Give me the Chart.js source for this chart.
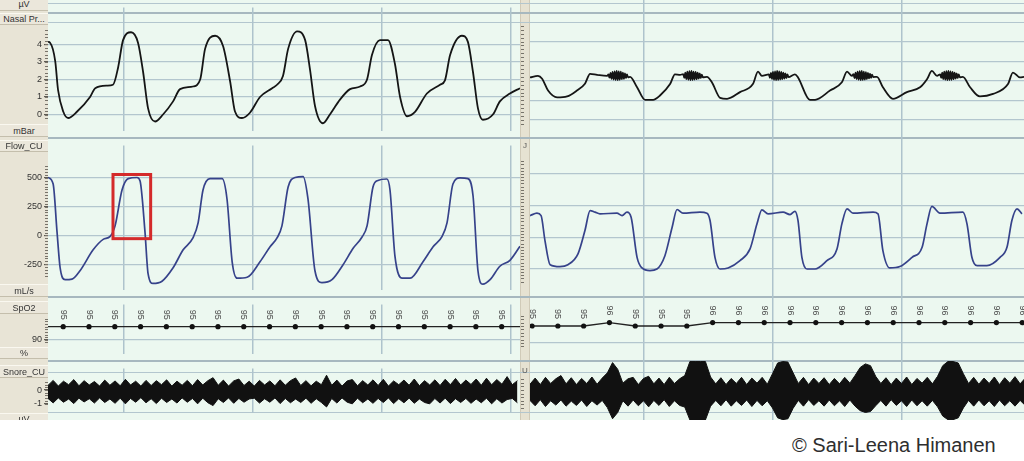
<!DOCTYPE html>
<html>
<head>
<meta charset="utf-8">
<script src="https://cdn.jsdelivr.net/npm/chart.js@4.4.1/dist/chart.umd.min.js"></script>
<style>
body { margin:0; width:1024px; height:461px; background:#fff; position:relative; overflow:hidden; font-family:"Liberation Sans", Arial, sans-serif; }
.abs { position:absolute; }
canvas { position:absolute; }
.sep { position:absolute; left:48px; width:976px; height:1px; background:#b3c6ce; }
.sep.thick { height:2px; background:#a7b8bf; }
.chan { position:absolute; left:0; width:48px; font-size:9px; color:#333; text-align:center; background:#ebe7db; border-top:1px solid #faf8f0; border-bottom:1px solid #c4beac; box-sizing:border-box; white-space:nowrap; overflow:hidden; }
.glyph { position:absolute; left:521px; width:8px; font-size:8px; color:#555; text-align:center; }
#copy { left:792px; top:435px; font-size:20px; line-height:20px; color:#2e2e2e; white-space:nowrap; }
</style>
</head>
<body>
<div id="scope" class="abs" style="left:0;top:0;width:1024px;height:420px;overflow:hidden">
  <div class="abs" style="left:0;top:0;width:48px;height:420px;background:#e8e4d6"></div>
  <div class="abs" style="left:48px;top:0;width:472px;height:420px;background:#ecf8f0"></div>
  <div class="abs" style="left:520px;top:0;width:10px;height:420px;background:#e6e2d2;border-left:1px solid #d0cab8;border-right:1px solid #d0cab8;box-sizing:border-box"></div>
  <div class="abs" style="left:530px;top:0;width:494px;height:420px;background:#ecf8f0"></div>

  <div class="sep" style="top:3px"></div>
  <div class="sep thick" style="top:12px"></div>
  <div class="sep" style="top:22px"></div>
  <div class="sep thick" style="top:137px"></div>
  <div class="sep thick" style="top:296px"></div>
  <div class="sep thick" style="top:360px"></div>
  <div class="sep" style="top:372px"></div>
  <div class="sep" style="top:412px"></div>

  <canvas id="nasalL" width="520" height="138" style="left:0;top:0"></canvas>
  <canvas id="nasalR" width="504" height="138" style="left:520px;top:0"></canvas>
  <canvas id="flowL" width="520" height="159" style="left:0;top:138px"></canvas>
  <canvas id="flowR" width="504" height="159" style="left:520px;top:138px"></canvas>
  <canvas id="spo2L" width="520" height="64" style="left:0;top:297px"></canvas>
  <canvas id="spo2R" width="504" height="64" style="left:520px;top:297px"></canvas>
  <canvas id="snoreL" width="520" height="59" style="left:0;top:361px"></canvas>
  <canvas id="snoreR" width="504" height="59" style="left:520px;top:361px"></canvas>

  <div class="chan" style="top:-3px;height:14px;line-height:13px">µV</div>
  <div class="chan" style="top:13px;height:12px;line-height:11px">Nasal Pr...</div>
  <div class="chan" style="top:124px;height:13px;line-height:12px">mBar</div>
  <div class="chan" style="top:140px;height:12px;line-height:11px">Flow_CU</div>
  <div class="chan" style="top:284px;height:13px;line-height:12px">mL/s</div>
  <div class="chan" style="top:301px;height:13px;line-height:12px">SpO2</div>
  <div class="chan" style="top:347px;height:12px;line-height:11px">%</div>
  <div class="chan" style="top:365px;height:13px;line-height:12px">Snore_CU</div>
  <div class="chan" style="top:413px;height:12px;line-height:11px">µV</div>
  <div class="glyph" style="top:141px">J</div>
  <div class="glyph" style="top:366px">U</div>
</div>
<div id="copy" class="abs">© Sari-Leena Himanen</div>

<script>
// seconds, [time, value] pairs
const nasalLeft = [[-2.95,4.15],[-2.87,4.1],[-2.67,3.05],[-2.56,1.4],[-2.36,0.17],[-2.17,-0.2],[-1.82,0.17],[-1.32,1.0],[-1.12,1.5],[-0.66,1.65],[-0.43,1.7],[-0.23,2.7],[-0.04,4.25],[0.27,4.7],[0.54,4.1],[0.74,2.4],[0.93,0.35],[1.2,-0.4],[1.51,0.0],[1.9,0.75],[2.17,1.45],[2.67,1.6],[2.95,2.0],[3.14,3.75],[3.53,4.5],[3.84,3.9],[4.11,1.9],[4.3,0.17],[4.57,-0.2],[4.88,0.1],[5.27,1.0],[5.74,1.5],[5.93,1.7],[6.16,2.2],[6.36,3.75],[6.71,4.75],[7.02,4.25],[7.21,2.55],[7.4,0.5],[7.71,-0.5],[7.98,0.0],[8.37,0.85],[8.76,1.45],[9.15,1.6],[9.42,2.0],[9.61,3.4],[9.92,4.25],[10.23,4.25],[10.5,2.9],[10.7,1.0],[10.97,-0.1],[11.28,0.15],[11.74,1.2],[12.25,1.7],[12.44,1.95],[12.64,3.4],[13.1,4.5],[13.33,4.15],[13.53,2.4],[13.72,0.35],[13.91,-0.3],[14.3,0.0],[14.57,0.75],[14.96,1.2],[15.35,1.5]];

const nasalRight = [[-4.42,2.17],[-4.11,2.25],[-3.95,2.1],[-3.72,1.5],[-3.37,1.15],[-2.98,1.2],[-2.6,1.5],[-2.29,1.85],[-2.09,2.35],[-1.82,2.3],[-1.43,2.25],
  [-1.38,2.32],[-1.34,2.16],[-1.30,2.40],[-1.26,2.10],[-1.22,2.45],[-1.18,2.06],[-1.14,2.48],[-1.10,2.04],[-1.06,2.50],[-1.02,2.03],[-0.98,2.48],[-0.94,2.05],[-0.90,2.46],[-0.86,2.08],[-0.82,2.42],[-0.78,2.10],[-0.74,2.38],[-0.70,2.14],[-0.66,2.32],[-0.62,2.18],
  [-0.54,2.2],[-0.27,1.67],[0.04,1.03],[0.35,1.03],[0.62,1.25],[1.01,1.83],[1.2,2.33],[1.4,2.3],
  [1.52,2.34],[1.56,2.15],[1.60,2.41],[1.64,2.09],[1.68,2.46],[1.72,2.05],[1.76,2.49],[1.80,2.03],[1.84,2.50],[1.88,2.04],[1.92,2.47],[1.96,2.06],[2.00,2.45],[2.04,2.08],[2.08,2.42],[2.12,2.11],[2.16,2.37],[2.20,2.14],[2.24,2.31],[2.28,2.18],
  [2.44,2.2],[2.64,1.9],[2.95,1.13],[3.22,1.08],[3.72,1.42],[4.22,1.83],[4.42,2.47],[4.57,2.25],
  [4.84,2.33],[4.88,2.15],[4.92,2.40],[4.96,2.10],[5.00,2.45],[5.04,2.05],[5.08,2.48],[5.12,2.03],[5.16,2.50],[5.20,2.04],[5.24,2.48],[5.28,2.06],[5.32,2.45],[5.36,2.08],[5.40,2.41],[5.44,2.11],[5.48,2.37],[5.52,2.14],[5.56,2.32],[5.60,2.19],
  [5.85,2.33],[5.97,2.17],[6.43,1.03],[6.63,1.03],[7.21,1.5],[7.67,1.92],[7.87,2.47],[8.06,2.25],
  [8.12,2.34],[8.16,2.14],[8.20,2.42],[8.24,2.09],[8.28,2.46],[8.32,2.05],[8.36,2.49],[8.40,2.03],[8.44,2.50],[8.48,2.04],[8.52,2.47],[8.56,2.06],[8.60,2.44],[8.64,2.09],[8.68,2.40],[8.72,2.12],[8.76,2.36],[8.80,2.15],[8.84,2.31],[8.88,2.19],
  [9.03,2.2],[9.26,1.67],[9.65,1.08],[10.19,1.42],[10.7,1.67],[10.97,2.08],[11.16,2.5],[11.36,2.25],
  [11.48,2.33],[11.52,2.15],[11.56,2.41],[11.60,2.09],[11.64,2.46],[11.68,2.05],[11.72,2.49],[11.76,2.03],[11.80,2.50],[11.84,2.04],[11.88,2.48],[11.92,2.05],[11.96,2.45],[12.00,2.08],[12.04,2.42],[12.08,2.11],[12.12,2.37],[12.16,2.14],[12.20,2.32],[12.24,2.18],
  [12.36,2.2],[12.64,1.67],[13.02,1.2],[13.53,1.33],[14.11,1.83],[14.3,2.42],[14.57,2.17],[14.73,2.2]];

const flowLeft = [[-2.95,505],[-2.75,447],[-2.6,31],[-2.48,-281],[-2.29,-385],[-2.02,-380],[-1.71,-307],[-1.2,-125],[-0.81,-34],[-0.54,-8],[-0.35,83],[-0.08,395],[0.16,494],[0.5,504],[0.62,473],[0.81,31],[0.93,-333],[1.12,-417],[1.47,-398],[1.9,-281],[2.29,-125],[2.67,-21],[2.87,109],[3.06,395],[3.33,494],[3.8,494],[3.99,317],[4.19,-229],[4.38,-372],[4.77,-364],[5.27,-229],[5.66,-99],[5.93,-21],[6.12,83],[6.36,421],[6.63,504],[6.94,512],[7.13,317],[7.4,-307],[7.67,-411],[8.06,-385],[8.49,-255],[8.88,-112],[9.22,-16],[9.42,83],[9.65,421],[9.84,478],[10.19,491],[10.31,395],[10.5,-177],[10.78,-372],[11.09,-372],[11.59,-229],[11.98,-99],[12.33,-8],[12.52,109],[12.75,447],[13.02,500],[13.33,494],[13.53,343],[13.72,-307],[13.91,-424],[14.19,-385],[14.57,-268],[14.96,-216],[15.35,-94]];

const flowRight = [[-4.42,171],[-4.15,190],[-3.99,171],[-3.84,-26],[-3.64,-216],[-3.26,-231],[-2.95,-216],[-2.56,-131],[-2.29,53],[-2.09,211],[-1.9,198],[-1.71,185],[-1.05,190],[-0.85,171],[-0.66,198],[-0.5,158],[-0.27,-158],[-0.08,-242],[0.23,-263],[0.5,-250],[0.81,-145],[1.09,79],[1.28,219],[1.51,190],[2.17,198],[2.44,190],[2.56,132],[2.75,-158],[2.95,-250],[3.26,-242],[3.72,-184],[4.11,-92],[4.38,106],[4.57,216],[4.81,185],[5.39,198],[5.66,179],[5.85,205],[5.97,132],[6.12,-158],[6.32,-250],[6.63,-250],[7.09,-184],[7.48,-92],[7.67,106],[7.87,224],[8.1,190],[8.88,198],[9.07,185],[9.26,-105],[9.53,-242],[9.92,-231],[10.39,-158],[10.78,-79],[10.97,106],[11.16,243],[11.47,190],[12.36,198],[12.52,106],[12.71,-158],[12.91,-224],[13.29,-224],[13.8,-158],[14.07,-79],[14.26,132],[14.46,224],[14.65,185]];

// SpO2, one reading per second
const spo2LeftStart = -3.36;
const spo2Left = [95,95,95,95,95,95,95,95,95,95,95,95,95,95,95,95,95,95,95,95];
const spo2RightStart = -5.34;
const spo2Right = [95,95,95,95,96,95,95,95,96,96,96,96,96,96,96,96,96,96,96,96,96,96];

// snore envelope (upper / lower excursion), one pair every 0.2 s
const snoreStep = 0.2;
const snoreLeftStart = -2.95;
const snoreLeftHi = [0.35,0.72,0.30,0.66,0.40,0.78,0.32,0.70,0.38,0.64, 0.30,0.74,0.36,0.68,0.32,0.80,0.38,0.66,0.30,0.72, 0.34,0.70,0.40,0.76,0.30,0.66,0.36,0.72,0.32,0.78, 0.38,0.70,0.92,0.36,0.74,0.30,0.68,0.82,0.34,0.66, 0.30,0.72,0.38,0.68,0.32,0.76,0.36,0.70,0.90,0.34, 0.70,0.32,0.66,0.40,1.10,0.36,0.74,0.30,0.68,0.78, 0.32,0.70,0.38,0.76,0.34,0.80,0.30,0.68,0.40,0.74, 0.36,0.82,0.32,0.70,0.38,0.76,0.34,0.80,0.40,0.86, 0.38,0.74,0.42,0.82,0.36,0.88,0.40,0.78,0.44,1.00, 0.40,0.70];
const snoreLeftLo = [-0.62,-0.95,-0.58,-0.90,-0.66,-1.00,-0.60,-0.88,-0.64,-0.96, -0.58,-0.92,-0.66,-0.98,-0.60,-1.02,-0.62,-0.90,-0.56,-0.94, -0.64,-1.00,-0.60,-0.92,-0.66,-0.96,-0.58,-0.90,-0.62,-1.02, -0.60,-0.94,-1.15,-0.64,-0.92,-0.58,-0.98,-0.62,-0.90,-0.66, -0.60,-0.96,-0.64,-0.90,-0.58,-1.00,-0.62,-0.94,-0.66,-0.92, -0.60,-0.98,-0.64,-0.92,-1.25,-0.62,-0.96,-0.58,-0.90,-1.02, -0.60,-0.94,-0.66,-0.98,-0.62,-0.92,-0.58,-1.00,-0.64,-0.94, -0.60,-0.98,-0.66,-0.92,-1.02,-0.62,-0.96,-0.60,-1.00,-0.64, -0.92,-0.62,-0.98,-0.66,-0.94,-0.60,-1.02,-0.64,-0.96,-0.70, -0.62,-0.94];
const snoreRightStart = -4.42;
const snoreRightHi = [0.32,0.66,0.30,0.70,0.36,0.62,0.80,0.34,0.68,0.30, 0.64,0.36,0.72,0.32,0.66,0.95,1.52,1.15,0.38,0.62, 0.70,0.30,0.64,0.76,0.34,0.66,0.30,0.70,0.36,0.62, 0.80,1.58,1.58,1.58,1.58,0.72,0.34,0.68,0.30,0.64, 0.36,0.70,0.30,0.66,0.38,0.70,0.32,0.90,1.50,1.58, 1.55,0.95,0.36,0.70,0.30,0.66,0.36,0.68,0.30,0.64, 0.34,0.70,0.38,0.80,1.25,1.45,1.35,0.76,0.36,0.68, 0.30,0.66,0.36,0.72,0.30,0.64,0.38,0.70,0.34,0.76, 1.35,1.58,1.58,1.50,0.90,0.36,0.70,0.32,0.66,0.36, 0.72,0.30,0.68,0.38,0.74,0.34,0.66];
const snoreRightLo = [-0.58,-0.88,-0.54,-0.92,-0.60,-0.84,-0.56,-0.90,-0.62,-0.86, -0.56,-0.92,-0.60,-0.84,-0.58,-0.98,-1.60,-1.25,-0.60,-0.90, -0.56,-0.88,-0.60,-0.94,-0.58,-0.86,-0.54,-0.92,-0.60,-0.86, -0.95,-1.67,-1.67,-1.67,-1.67,-0.90,-0.58,-0.88,-0.54,-0.90, -0.60,-0.86,-0.56,-0.92,-0.58,-0.88,-0.60,-1.00,-1.55,-1.65, -1.60,-1.02,-0.58,-0.90,-0.54,-0.86,-0.60,-0.90,-0.56,-0.88, -0.60,-0.92,-0.56,-0.90,-1.15,-1.25,-1.20,-0.88,-0.58,-0.90, -0.54,-0.86,-0.60,-0.92,-0.56,-0.88,-0.60,-0.90,-0.58,-0.94, -1.45,-1.65,-1.65,-1.55,-1.00,-0.58,-0.90,-0.56,-0.88,-0.60, -0.92,-0.56,-0.88,-0.60,-0.90,-0.58,-0.86];

// axis ticks
const gridSeconds = [0, 5, 10, 15];
const nasalTicks = [0, 1, 2, 3, 4];
const flowTicks = [-250, 0, 250, 500];
const spo2Ticks = [90];
const snoreTicks = [-1, 0];

// the red box around one inspiration
const markedBreath = { tFrom: -0.43, tTo: 1.03, vTop: 530, vBottom: -28 };

const leftWindow = { min: -2.95, max: 15.35 };
const rightWindow = { min: -4.42, max: 14.73 };

Chart.defaults.font.family = '"Liberation Sans", Arial, sans-serif';

const pairs = arr => arr.map(p => ({ x: p[0], y: p[1] }));
const perSecond = (start, vals) => vals.map((v, i) => ({ x: start + i, y: v }));
const sampled = (start, vals) => vals.map((v, i) => ({ x: start + i * snoreStep, y: v }));

const ruler = {
  id: 'ruler',
  afterDraw(chart, args, o) {
    if (!o || !o.step) return;
    const y = chart.scales.y, ctx = chart.ctx, x0 = chart.chartArea.left - o.gap;
    ctx.save();
    ctx.strokeStyle = '#77736a';
    ctx.lineWidth = 1;
    for (let v = o.from; v <= o.to + 1e-9; v += o.step) {
      const py = Math.round(y.getPixelForValue(v)) + 0.5;
      ctx.beginPath();
      ctx.moveTo(x0 - 3, py);
      ctx.lineTo(x0, py);
      ctx.stroke();
    }
    ctx.restore();
  }
};

const valueTags = {
  id: 'valueTags',
  afterDatasetsDraw(chart, args, o) {
    if (!o || !o.show) return;
    const ctx = chart.ctx, area = chart.chartArea;
    const meta = chart.getDatasetMeta(0), ds = chart.data.datasets[0];
    ctx.save();
    ctx.font = '9px "Liberation Sans", Arial, sans-serif';
    ctx.fillStyle = '#4a4a4a';
    ctx.textAlign = 'center';
    ctx.textBaseline = 'middle';
    meta.data.forEach((pt, i) => {
      if (pt.x < area.left || pt.x > area.right) return;
      ctx.save();
      ctx.translate(pt.x, pt.y - 12);
      ctx.rotate(Math.PI / 2);
      ctx.fillText(String(ds.data[i].y), 0, 0);
      ctx.restore();
    });
    ctx.restore();
  }
};

const markBox = {
  id: 'markBox',
  afterDatasetsDraw(chart, args, o) {
    if (!o || !o.box) return;
    const b = o.box, sx = chart.scales.x, sy = chart.scales.y, ctx = chart.ctx;
    const x1 = sx.getPixelForValue(b.tFrom), x2 = sx.getPixelForValue(b.tTo);
    const y1 = sy.getPixelForValue(b.vTop), y2 = sy.getPixelForValue(b.vBottom);
    ctx.save();
    ctx.strokeStyle = '#d42a2a';
    ctx.lineWidth = 3;
    ctx.strokeRect(x1, y1, x2 - x1, y2 - y1);
    ctx.restore();
  }
};

function drawChannel(id, c) {
  const left = c.side === 'left';
  const win = left ? leftWindow : rightWindow;
  return new Chart(document.getElementById(id), {
    type: 'line',
    data: { datasets: c.datasets },
    plugins: [ruler, valueTags, markBox],
    options: {
      responsive: false,
      animation: false,
      devicePixelRatio: 1,
      layout: { padding: 0, autoPadding: false },
      plugins: {
        legend: { display: false },
        tooltip: { enabled: false },
        ruler: Object.assign({ gap: left ? 0 : 6 }, c.ruler),
        valueTags: { show: !!c.tags },
        markBox: { box: left ? c.box : null }
      },
      scales: {
        x: {
          type: 'linear', min: win.min, max: win.max,
          afterBuildTicks: s => { s.ticks = gridSeconds.filter(v => v >= win.min && v <= win.max).map(v => ({ value: v })); },
          afterFit: s => { s.height = 0; },
          ticks: { display: false },
          grid: { color: '#aec3cc', lineWidth: 1.5, drawTicks: false },
          border: { display: false }
        },
        y: {
          min: c.min, max: c.max,
          afterBuildTicks: s => { s.ticks = c.ticks.map(v => ({ value: v })); },
          afterFit: s => { s.width = left ? 48 : 10; },
          ticks: { display: left, color: '#333', padding: 2, autoSkip: false, font: { size: 9 } },
          grid: { color: c.grid ? '#b3c6ce' : 'rgba(0,0,0,0)', lineWidth: 1.2, drawTicks: left, tickLength: 4, tickColor: '#5d5a52' },
          border: { display: false }
        }
      }
    }
  });
}

function traceSet(points, color, width) {
  return [{ data: points, borderColor: color, borderWidth: width, pointRadius: 0, cubicInterpolationMode: 'monotone', fill: false }];
}

function spo2Set(points) {
  return [{ data: points, borderColor: '#222', borderWidth: 1.3, pointRadius: 2.6, pointBackgroundColor: '#111', pointBorderWidth: 0, tension: 0, fill: false }];
}

function snoreSet(hi, lo) {
  return [
    { data: hi, borderColor: '#111', backgroundColor: '#111', borderWidth: 1, pointRadius: 0, tension: 0, fill: '+1' },
    { data: lo, borderColor: '#111', borderWidth: 1, pointRadius: 0, tension: 0, fill: false }
  ];
}

const nasalAxis = { min: -0.92, max: 6.12, ticks: nasalTicks, grid: true, ruler: { from: -0.2, to: 4.8, step: 0.2 } };
const flowAxis = { min: -471, max: 783, ticks: flowTicks, grid: true, ruler: { from: -350, to: 600, step: 25 } };
const spo2Axis = { min: 84.7, max: 103.53, ticks: spo2Ticks, grid: true, ruler: { from: 89, to: 98, step: 1 } };
const snoreAxis = { min: -1.67, max: 1.61, ticks: snoreTicks, grid: false, ruler: { from: -1.0, to: 0.6, step: 0.2 } };

drawChannel('nasalL', Object.assign({ side: 'left', datasets: traceSet(pairs(nasalLeft), '#151515', 1.8) }, nasalAxis));
drawChannel('nasalR', Object.assign({ side: 'right', datasets: traceSet(pairs(nasalRight), '#151515', 1.8) }, nasalAxis));
drawChannel('flowL', Object.assign({ side: 'left', datasets: traceSet(pairs(flowLeft), '#36428a', 1.7), box: markedBreath }, flowAxis));
drawChannel('flowR', Object.assign({ side: 'right', datasets: traceSet(pairs(flowRight), '#36428a', 1.7) }, flowAxis));
drawChannel('spo2L', Object.assign({ side: 'left', tags: true, datasets: spo2Set(perSecond(spo2LeftStart, spo2Left)) }, spo2Axis));
drawChannel('spo2R', Object.assign({ side: 'right', tags: true, datasets: spo2Set(perSecond(spo2RightStart, spo2Right)) }, spo2Axis));
drawChannel('snoreL', Object.assign({ side: 'left', datasets: snoreSet(sampled(snoreLeftStart, snoreLeftHi), sampled(snoreLeftStart, snoreLeftLo)) }, snoreAxis));
drawChannel('snoreR', Object.assign({ side: 'right', datasets: snoreSet(sampled(snoreRightStart, snoreRightHi), sampled(snoreRightStart, snoreRightLo)) }, snoreAxis));
</script>
</body>
</html>
